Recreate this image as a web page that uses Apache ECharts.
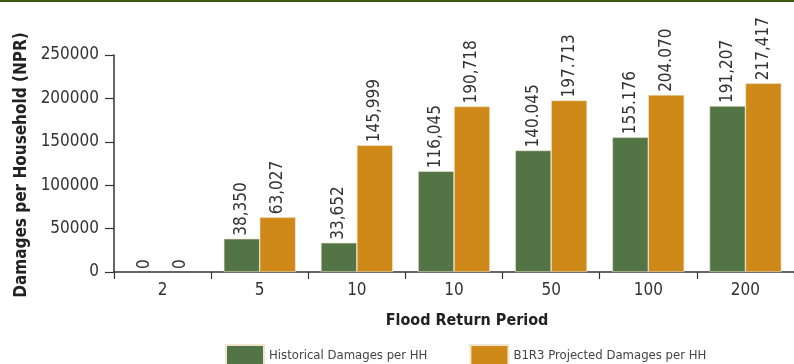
<!DOCTYPE html>
<html>
<head>
<meta charset="utf-8">
<script src="https://cdn.jsdelivr.net/npm/echarts@6/dist/echarts.min.js"></script>
<style>
  html, body { margin: 0; padding: 0; background: #fff; }
  #chart { width: 794px; height: 364px; }
</style>
</head>
<body>
<div id="chart"></div>
<script>
// Flood return periods (categories)
const returnPeriods = ['2', '5', '10', '10', '50', '100', '200'];

// Damages per household (NPR)
const historicalDamages = [0, 38350, 33652, 116045, 140045, 155176, 191207];
const projectedDamages  = [0, 63027, 145999, 190718, 197713, 204070, 217417];

// Thousands separator printed in each value label
const historicalSeparators = [',', ',', ',', ',', '.', '.', ','];
const projectedSeparators  = [',', ',', ',', ',', '.', '.', ','];

// Y axis ticks
const yTicks = [0, 50000, 100000, 150000, 200000, 250000];

const seriesNames = ['Historical Damages per HH', 'B1R3 Projected Damages per HH'];

// Narrow face of DejaVu Sans (font-stretch carried in the style slot of the font shorthand)
const FONT = "'DejaVu Sans Condensed', 'DejaVu Sans', sans-serif";
const STRETCH = 'condensed';
const GREEN = '#537444';
const ORANGE = '#cf8918';
const AXIS = '#333333';

function groupDigits(v, sep) {
  const s = String(Math.round(v));
  return s.replace(/\B(?=(\d{3})+(?!\d))/g, sep);
}

// zero-height bars get no outline so nothing shows on the axis
function barData(values) {
  return values.map(v => (v === 0 ? { value: v, itemStyle: { borderWidth: 0 } } : v));
}

function labelFor(separators) {
  return {
    show: true,
    position: 'top',
    rotate: 90,
    align: 'left',
    verticalAlign: 'middle',
    distance: 3,
    fontFamily: FONT,
    fontStyle: STRETCH,
    fontSize: 17,
    color: '#333',
    formatter: p => groupDigits(p.value, separators[p.dataIndex])
  };
}

const chart = echarts.init(document.getElementById('chart'), null, { renderer: 'canvas' });

chart.setOption({
  animation: false,
  backgroundColor: '#fff',
  textStyle: { fontFamily: FONT },
  grid: { left: 114, right: 0, top: 55, bottom: 92, containLabel: false },
  legend: {
    data: seriesNames,
    left: 225,
    top: 344,
    padding: 0,
    itemWidth: 38,
    itemHeight: 22,
    itemGap: 42,
    icon: 'rect',
    textStyle: { fontFamily: FONT, fontStyle: STRETCH, fontSize: 13, color: '#444' }
  },
  xAxis: {
    type: 'category',
    data: returnPeriods,
    axisLine: { lineStyle: { color: AXIS, width: 1.5 } },
    axisTick: { show: true, length: 7, alignWithLabel: false, lineStyle: { color: AXIS, width: 1.2 } },
    axisLabel: { margin: 10, fontFamily: FONT, fontStyle: STRETCH, fontSize: 17, color: '#333' },
    splitLine: { show: false }
  },
  yAxis: {
    type: 'value',
    min: yTicks[0],
    max: yTicks[yTicks.length - 1],
    interval: yTicks[1] - yTicks[0],
    axisLine: { show: true, lineStyle: { color: AXIS, width: 1.5 } },
    axisTick: { show: true, length: 9, lineStyle: { color: AXIS, width: 1.2 } },
    axisLabel: {
      margin: 15, fontFamily: FONT, fontStyle: STRETCH, fontSize: 17, color: '#333',
      formatter: v => String(v)
    },
    splitLine: { show: false }
  },
  series: [
    {
      name: seriesNames[0],
      type: 'bar',
      data: barData(historicalDamages),
      barGap: '0%',
      barCategoryGap: '26%',
      itemStyle: { color: GREEN, borderColor: '#efe6d2', borderWidth: 0.6 },
      label: labelFor(historicalSeparators)
    },
    {
      name: seriesNames[1],
      type: 'bar',
      data: barData(projectedDamages),
      barGap: '0%',
      barCategoryGap: '26%',
      itemStyle: { color: ORANGE, borderColor: '#efe6d2', borderWidth: 0.6 },
      label: labelFor(projectedSeparators)
    }
  ],
  graphic: [
    { type: 'rect', left: 0, top: 0, shape: { width: 794, height: 2 }, style: { fill: '#3a5714' }, silent: true },
    {
      type: 'text', x: 22, y: 165, rotation: Math.PI / 2,
      style: { text: 'Damages per Household (NPR)', font: STRETCH + ' bold 17px ' + FONT, fill: '#222', align: 'center', verticalAlign: 'middle' }
    },
    {
      type: 'text', x: 467, y: 321,
      style: { text: 'Flood Return Period', font: STRETCH + ' bold 16px ' + FONT, fill: '#222', align: 'center', verticalAlign: 'middle' }
    }
  ]
});
</script>
</body>
</html>
